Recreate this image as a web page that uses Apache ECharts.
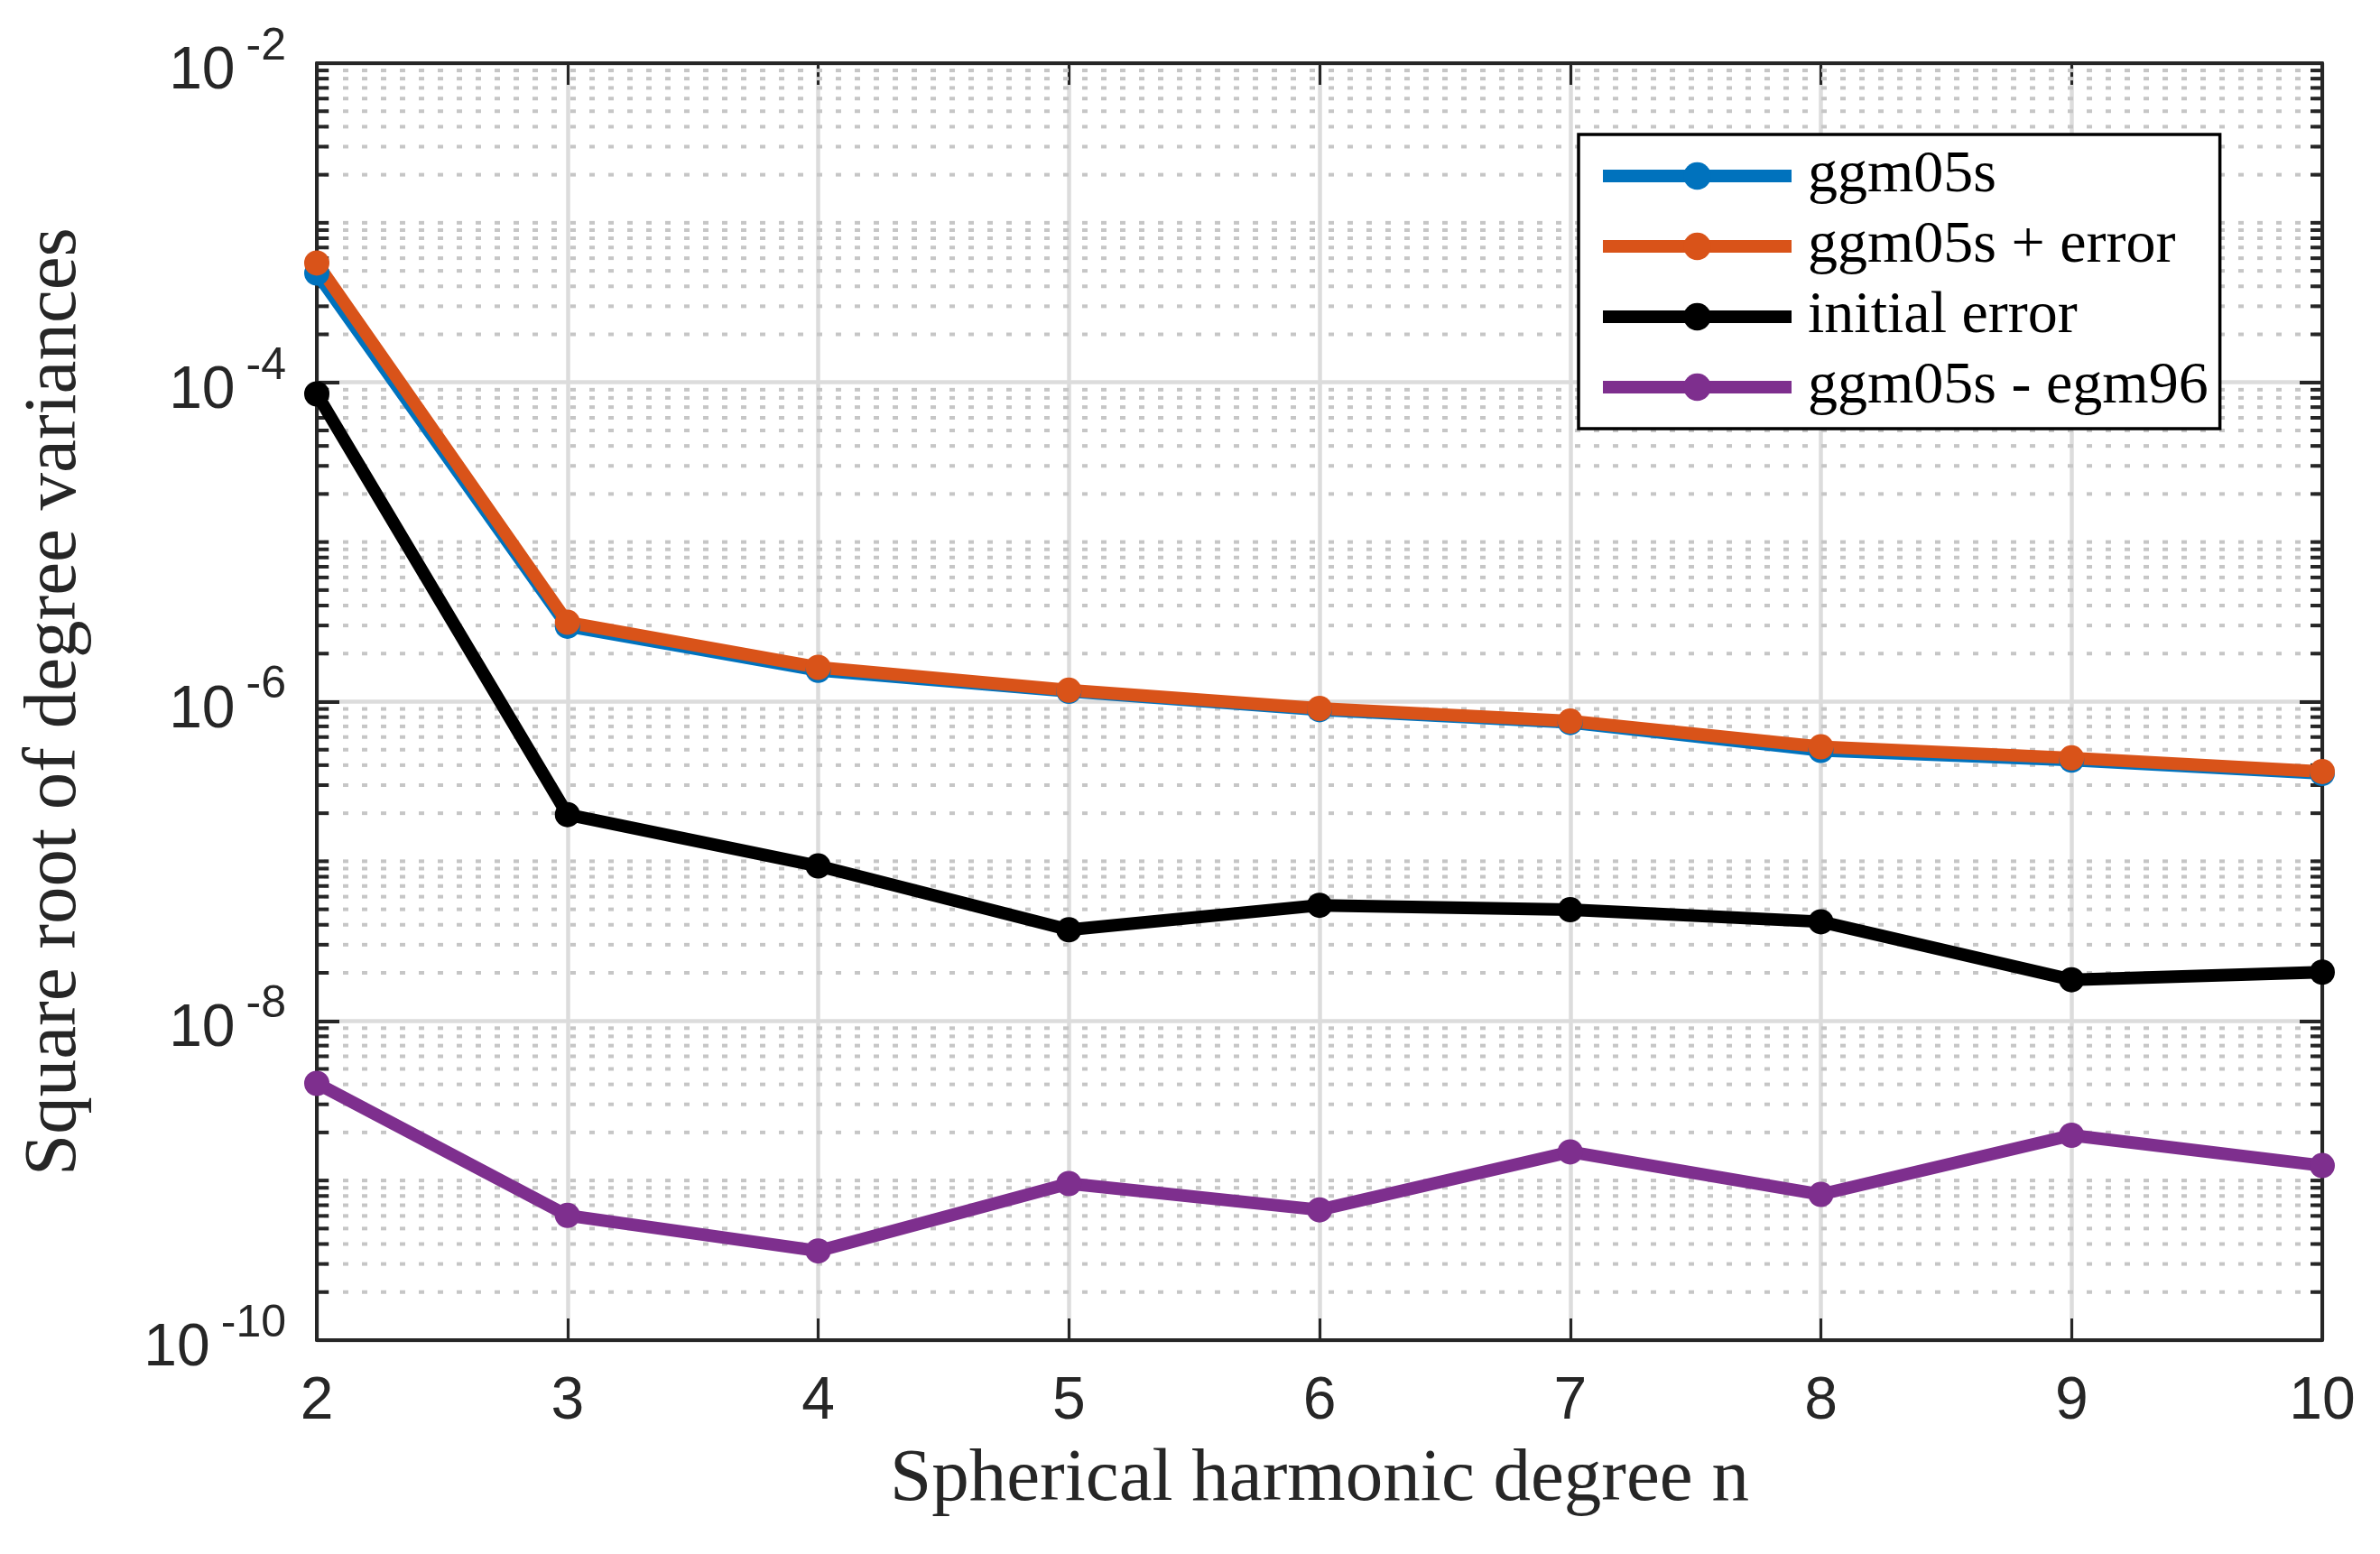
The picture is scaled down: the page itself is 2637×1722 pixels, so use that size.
<!DOCTYPE html>
<html>
<head>
<meta charset="utf-8">
<script src="https://cdn.jsdelivr.net/npm/echarts@6/dist/echarts.min.js"></script>
<style>
    html, body { margin: 0; padding: 0; background: #fff; }
    #chart { width: 2637px; height: 1722px; }
</style>
</head>
<body>
<div id="chart"></div>
<script>
// values
var degrees = [2, 3, 4, 5, 6, 7, 8, 9, 10];
var ggm05s = [4.84e-4, 2.97e-6, 1.57e-6, 1.16e-6, 8.9e-7, 7.4e-7, 4.95e-7, 4.3e-7, 3.55e-7];
var ggm05sError = [5.60e-4, 3.14e-6, 1.64e-6, 1.18e-6, 9.07e-7, 7.55e-7, 5.21e-7, 4.44e-7, 3.65e-7];
var initialError = [8.47e-5, 1.96e-7, 9.35e-8, 3.72e-8, 5.3e-8, 4.97e-8, 4.18e-8, 1.81e-8, 2.02e-8];
var ggm05sEgm96 = [4.06e-9, 6.04e-10, 3.62e-10, 9.57e-10, 6.55e-10, 1.51e-9, 8.18e-10, 1.92e-9, 1.24e-9];

var seriesNames = ['ggm05s', 'ggm05s + error', 'initial error', 'ggm05s - egm96'];
var seriesColors = ['#0072BD', '#D95319', '#000000', '#7E2F8E'];
var seriesValues = [ggm05s, ggm05sError, initialError, ggm05sEgm96];

var xMin = 2, xMax = 10;
var yMin = 1e-10, yMax = 1e-2;
var decades = [-10, -9, -8, -7, -6, -5, -4, -3];
var minorMantissas = [2, 3, 4, 5, 6, 7, 8, 9];

var axisColor = '#262626';
var tickFont = 'Liberation Sans';
var titleFont = 'Liberation Serif';

// minor log ticks: 2..9 x 10^k, plus the odd decades (only even decades are labelled)
var minorValues = [];
decades.forEach(function (e) {
    if (e % 2 !== 0) minorValues.push(Number('1e' + e));
    minorMantissas.forEach(function (m) {
        minorValues.push(Number(m + 'e' + e));
    });
});

// dotted minor grid line + short minor ticks on both sides, placed through the axes
function renderMinor(params, api) {
    var v = api.value(1);
    var p0 = api.coord([xMin, v]);
    var p1 = api.coord([xMax, v]);
    var y = p0[1];
    var children = [];
    for (var x = p0[0] + 8; x < p1[0] - 4; x += 21) {
        children.push({
            type: 'rect',
            shape: { x: x, y: y - 2, width: 6, height: 4 },
            style: { fill: '#c6c6c6' }
        });
    }
    children.push({ type: 'rect', shape: { x: p0[0], y: y - 2, width: 13, height: 4 }, style: { fill: axisColor } });
    children.push({ type: 'rect', shape: { x: p1[0] - 13, y: y - 2, width: 13, height: 4 }, style: { fill: axisColor } });
    return { type: 'group', children: children };
}

function expLabel(value) {
    var e = Math.round(Math.log10(value));
    return '{b|10}{s|' + e + '}';
}

function yAxisDef(pos) {
    return {
        type: 'log',
        logBase: 100,
        min: yMin,
        max: yMax,
        position: pos,
        axisLine: { show: true, onZero: false, lineStyle: { color: axisColor, width: 4 } },
        axisTick: { show: true, inside: true, length: 25, lineStyle: { color: axisColor, width: 4 } },
        splitLine: { show: pos === 'left', lineStyle: { color: '#dcdcdc', width: 4.5 } },
        minorTick: { show: false },
        axisLabel: {
            show: pos === 'left',
            margin: 34,
            formatter: expLabel,
            rich: {
                b: { fontSize: 66, fontFamily: tickFont, color: axisColor, lineHeight: 66, verticalAlign: 'bottom' },
                s: { fontSize: 50, fontFamily: tickFont, color: axisColor, lineHeight: 86, verticalAlign: 'top', padding: [0, 0, 0, 12] }
            }
        }
    };
}

function xAxisDef(pos) {
    return {
        type: 'value',
        min: xMin,
        max: xMax,
        interval: 1,
        position: pos,
        axisLine: { show: true, onZero: false, lineStyle: { color: axisColor, width: 4 } },
        axisTick: { show: true, inside: true, length: 24, lineStyle: { color: axisColor, width: 3 } },
        splitLine: { show: pos === 'bottom', lineStyle: { color: '#dcdcdc', width: 4.5 } },
        axisLabel: {
            show: pos === 'bottom',
            margin: 36,
            fontSize: 66,
            fontFamily: tickFont,
            color: axisColor,
            showMinLabel: true,
            showMaxLabel: true
        }
    };
}

var xBottom = xAxisDef('bottom');
xBottom.name = 'Spherical harmonic degree n';
xBottom.nameLocation = 'middle';
xBottom.nameGap = 114;
xBottom.nameTextStyle = { fontFamily: titleFont, fontSize: 83, color: axisColor };

var yLeft = yAxisDef('left');
yLeft.name = 'Square root of degree variances';
yLeft.nameLocation = 'middle';
yLeft.nameRotate = 90;
yLeft.nameGap = 248;
yLeft.nameTextStyle = { fontFamily: titleFont, fontSize: 83, color: axisColor };

var series = [{
    name: 'minor-grid',
    type: 'custom',
    z: 1,
    silent: true,
    renderItem: renderMinor,
    data: minorValues.map(function (v) { return [xMin, v]; })
}];

seriesNames.forEach(function (name, i) {
    series.push({
        name: name,
        type: 'line',
        z: 3,
        data: degrees.map(function (d, j) { return [d, seriesValues[i][j]]; }),
        symbol: 'circle',
        symbolSize: 28,
        showSymbol: true,
        lineStyle: { color: seriesColors[i], width: 14 },
        itemStyle: { color: seriesColors[i] },
        emphasis: { disabled: true }
    });
});

var chart = echarts.init(document.getElementById('chart'));
chart.setOption({
    animation: false,
    backgroundColor: '#fff',
    grid: { left: 351, right: 64, top: 70, bottom: 237, containLabel: false },
    xAxis: [xBottom, xAxisDef('top')],
    yAxis: [yLeft, yAxisDef('right')],
    legend: {
        orient: 'vertical',
        left: 1749,
        top: 149,
        data: seriesNames,
        itemWidth: 209,
        itemHeight: 38,
        itemGap: 10,
        padding: [12, 13, 12, 20],
        backgroundColor: '#fff',
        borderColor: '#000',
        borderWidth: 3.5,
        borderRadius: 0,
        lineStyle: { width: 14 },
        textStyle: { fontFamily: titleFont, fontSize: 66, color: '#000', lineHeight: 68, padding: [0, 0, 0, 13] }
    },
    series: series
});
</script>
</body>
</html>
